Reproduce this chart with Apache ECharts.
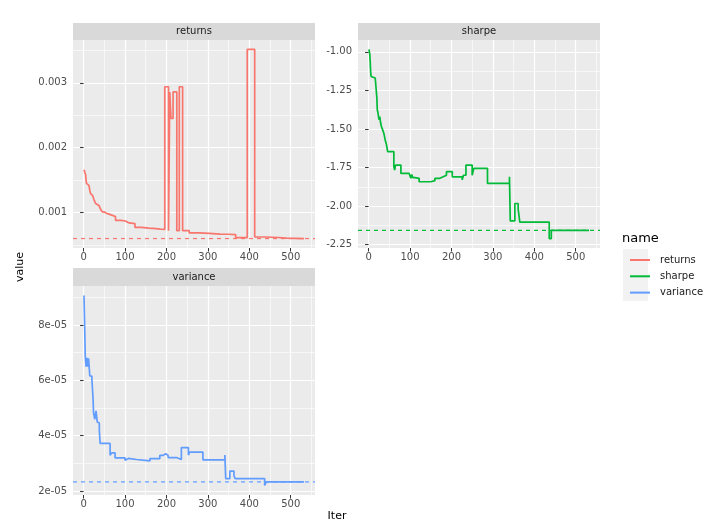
<!DOCTYPE html>
<html><head><meta charset="utf-8">
<script src="https://cdn.jsdelivr.net/npm/echarts@6/dist/echarts.min.js"></script>
<style>html,body{margin:0;padding:0;background:#fff}#c{width:720px;height:524px}</style>
</head><body><div id="c"></div>
<script>
// ---------- data ----------
const panelNames = ['returns', 'sharpe', 'variance'];
const lineColors = ['#F8766D', '#00BA38', '#619CFF'];

// step-change points: from iter[i] onwards the value is value[i]
const returnsIter  = [1, 3, 5, 6, 7, 10, 13, 15, 17, 20, 22, 25, 27, 29, 33, 37, 41, 45, 50, 55, 60, 68, 77, 90, 101, 110, 124, 140, 157, 175, 185,
                      196, 205, 208, 211, 216, 225, 231, 239, 255, 280, 303, 330, 350, 367, 395, 413, 440, 470, 490, 532];
const returnsValue = [0.00166, 0.00163, 0.00158, 0.00150, 0.00145, 0.00142, 0.00139, 0.00134, 0.00129, 0.00126, 0.00124, 0.00120, 0.00117, 0.00114, 0.00111, 0.00108, 0.00105, 0.00101, 0.00099, 0.00098, 0.00096, 0.00094, 0.00088, 0.00087, 0.00084, 0.00083, 0.00077, 0.00076, 0.000753, 0.000745, 0.00074,
                      0.00294, 0.00072, 0.00286, 0.00245, 0.00286, 0.00072, 0.00294, 0.00072, 0.000685, 0.000678, 0.000668, 0.000665, 0.00066, 0.000614, 0.003515, 0.000623, 0.000615, 0.000605, 0.000599, 0.000599];
const returnsRef = 0.000599;

const sharpeIter  = [1, 3, 4, 5, 6, 10, 16, 18, 20, 21, 23, 25, 27, 29, 31, 34, 37, 40, 43, 46, 61, 63, 65, 78, 98, 102, 104, 107, 112, 122, 150, 160, 172, 180, 188,
                     202, 226, 229, 235, 250, 254, 287, 340, 342, 353, 361, 365, 436, 441, 532];
const sharpeValue = [-0.985, -1.02, -1.07, -1.13, -1.16, -1.17, -1.16, -1.235, -1.30, -1.376, -1.40, -1.44, -1.42, -1.46, -1.484, -1.506, -1.53, -1.571, -1.60, -1.647, -1.745, -1.766, -1.734, -1.788, -1.80, -1.82, -1.795, -1.815, -1.82, -1.842, -1.835, -1.82, -1.81, -1.80, -1.777,
                     -1.81, -1.83, -1.80, -1.734, -1.80, -1.755, -1.853, -1.81, -2.096, -1.983, -2.02, -2.103, -2.21, -2.157, -2.157];
const sharpeRef = -2.157;

const varianceIter  = [1, 3, 4, 6, 8, 10, 12, 15, 20, 23, 24, 27, 30, 33, 36, 38, 40, 64, 68, 76, 100, 104, 108, 128, 160, 184, 192, 198, 204, 224,
                       236, 253, 256, 288, 341, 343, 353, 363, 366, 437, 441, 532];
const varianceValue = [9.07e-5, 7.67e-5, 6.88e-5, 6.5e-5, 6.82e-5, 6.5e-5, 6.8e-5, 6.16e-5, 6.05e-5, 5.3e-5, 4.83e-5, 4.59e-5, 4.9e-5, 4.5e-5, 4.46e-5, 4.2e-5, 3.72e-5, 3.29e-5, 3.38e-5, 3.2e-5, 3.11e-5, 3.18e-5, 3.14e-5, 3.09e-5, 3.17e-5, 3.29e-5, 3.35e-5, 3.29e-5, 3.21e-5, 3.14e-5,
                       3.57e-5, 3.3e-5, 3.41e-5, 3.13e-5, 3.3e-5, 2.45e-5, 2.72e-5, 2.55e-5, 2.45e-5, 2.2e-5, 2.33e-5, 2.33e-5];
const varianceRef = 2.33e-5;

// tick labels / breaks
const xTicks = [0, 100, 200, 300, 400, 500];
const xMinorTicks = [50, 150, 250, 350, 450, 550];
const returnsTicks = [0.001, 0.002, 0.003];
const returnsMinor = [0.0005, 0.0015, 0.0025, 0.0035];
const sharpeTicks = [-2.25, -2.00, -1.75, -1.50, -1.25, -1.00];
const sharpeMinor = [-2.125, -1.875, -1.625, -1.375, -1.125];
const varianceTicks = [2e-5, 4e-5, 6e-5, 8e-5];
const varianceMinor = [3e-5, 5e-5, 7e-5, 9e-5];

// ---------- build ----------
const FONT = '"DejaVu Sans", "Liberation Sans", sans-serif';
function expand(arr) {
  const lo = Math.min(...arr), hi = Math.max(...arr), r = hi - lo;
  return [lo - 0.05 * r, hi + 0.05 * r];
}
function sci(v) {
  const s = v.toExponential(0);            // e.g. "8e-5"
  const parts = s.split('e');
  const e = parseInt(parts[1], 10);
  return parts[0] + 'e' + (e < 0 ? '-' : '+') + String(Math.abs(e)).padStart(2, '0');
}
const panels = [
  {iter: returnsIter, val: returnsValue, ref: returnsRef, yt: returnsTicks, ym: returnsMinor, fmt: v => v.toFixed(3)},
  {iter: sharpeIter, val: sharpeValue, ref: sharpeRef, yt: sharpeTicks, ym: sharpeMinor, fmt: v => v.toFixed(2)},
  {iter: varianceIter, val: varianceValue, ref: varianceRef, yt: varianceTicks, ym: varianceMinor, fmt: sci}
];
const grids = [
  {left: 73, top: 40, width: 242, height: 208},
  {left: 358, top: 40, width: 242, height: 208},
  {left: 73, top: 286, width: 242, height: 209}
];
const xAxes = [], yAxes = [], series = [];
panels.forEach((p, i) => {
  const xr = expand(p.iter);
  const yr = expand(p.val.concat([p.ref]));
  const tickStyle = {show: true, length: 3.5, lineStyle: {color: '#333333', width: 1}};
  const lab = {color: '#4d4d4d', fontSize: 10, fontFamily: FONT};
  xAxes.push({gridIndex: i, type: 'value', min: xr[0], max: xr[1], position: 'bottom',
    axisLine: {show: false}, axisTick: Object.assign({customValues: xTicks}, tickStyle),
    axisLabel: Object.assign({customValues: xTicks, margin: 4}, lab),
    splitLine: {show: true, lineStyle: {color: '#ffffff', width: 1.2}}});
  xAxes.push({gridIndex: i, type: 'value', min: xr[0], max: xr[1], position: 'bottom',
    axisLine: {show: false}, axisTick: {show: false, customValues: xMinorTicks},
    axisLabel: {show: false, customValues: xMinorTicks},
    splitLine: {show: true, lineStyle: {color: '#ffffff', width: 0.6}}});
  yAxes.push({gridIndex: i, type: 'value', min: yr[0], max: yr[1], position: 'left',
    axisLine: {show: false}, axisTick: Object.assign({customValues: p.yt}, tickStyle),
    axisLabel: Object.assign({customValues: p.yt, margin: 6, formatter: p.fmt}, lab),
    splitLine: {show: true, lineStyle: {color: '#ffffff', width: 1.2}}});
  yAxes.push({gridIndex: i, type: 'value', min: yr[0], max: yr[1], position: 'left',
    axisLine: {show: false}, axisTick: {show: false, customValues: p.ym},
    axisLabel: {show: false, customValues: p.ym},
    splitLine: {show: true, lineStyle: {color: '#ffffff', width: 0.6}}});
  // dashed reference line spanning the whole panel
  series.push({
    type: 'line', name: panelNames[i] + ' ref', xAxisIndex: 2 * i, yAxisIndex: 2 * i,
    data: [[xr[0], p.ref], [xr[1], p.ref]], symbol: 'none', silent: true, z: 2,
    lineStyle: {color: lineColors[i], width: 1.2, type: [4, 4]}, itemStyle: {color: lineColors[i]}
  });
  series.push({
    type: 'line', name: panelNames[i], xAxisIndex: 2 * i, yAxisIndex: 2 * i,
    data: p.iter.map((x, k) => [x, p.val[k]]), step: 'end', symbol: 'none',
    lineStyle: {color: lineColors[i], width: 1.7}, itemStyle: {color: lineColors[i]},
    z: 3
  });
});

function strip(x, y, w, h, label) {
  return [
    {type: 'rect', shape: {x: x, y: y, width: w, height: h}, style: {fill: '#d9d9d9'}, silent: true},
    {type: 'text', x: x + w / 2, y: y + h / 2, style: {text: label, align: 'center', verticalAlign: 'middle', fill: '#1a1a1a', font: '10px ' + FONT}, silent: true}
  ];
}
const graphics = [].concat(
  strip(73, 23, 242, 17, panelNames[0]),
  strip(358, 23, 242, 17, panelNames[1]),
  strip(73, 268, 242, 18, panelNames[2]),
  [
    {type: 'text', x: 20, y: 267, rotation: Math.PI / 2, style: {text: 'value', align: 'center', verticalAlign: 'middle', fill: '#000', font: '11px ' + FONT}},
    {type: 'text', x: 337, y: 516, style: {text: 'Iter', align: 'center', verticalAlign: 'middle', fill: '#000', font: '11px ' + FONT}},
    {type: 'text', x: 622, y: 239, style: {text: 'name', align: 'left', verticalAlign: 'middle', fill: '#000', font: '13px ' + FONT}},
    {type: 'rect', shape: {x: 623, y: 249, width: 25, height: 52}, style: {fill: '#f2f2f2'}, z: -1}
  ]
);

const legendIcon = 'path://M0,0 L20,0 L20,2 L0,2 Z';
const chart = echarts.init(document.getElementById('c'), null, {renderer: 'canvas'});
chart.setOption({
  animation: false,
  backgroundColor: '#ffffff',
  grid: grids.map(g => Object.assign({show: true, backgroundColor: '#ebebeb', borderWidth: 0, containLabel: false}, g)),
  xAxis: xAxes,
  yAxis: yAxes,
  legend: {
    data: panelNames.map(n => ({name: n, icon: legendIcon})),
    orient: 'vertical', left: 625, top: 250,
    itemWidth: 20, itemHeight: 2, itemGap: 6.3, selectedMode: false,
    textStyle: {color: '#1a1a1a', fontSize: 10, fontFamily: FONT, padding: [0, 0, 0, 5]}
  },
  graphic: graphics,
  series: series
});
</script></body></html>
